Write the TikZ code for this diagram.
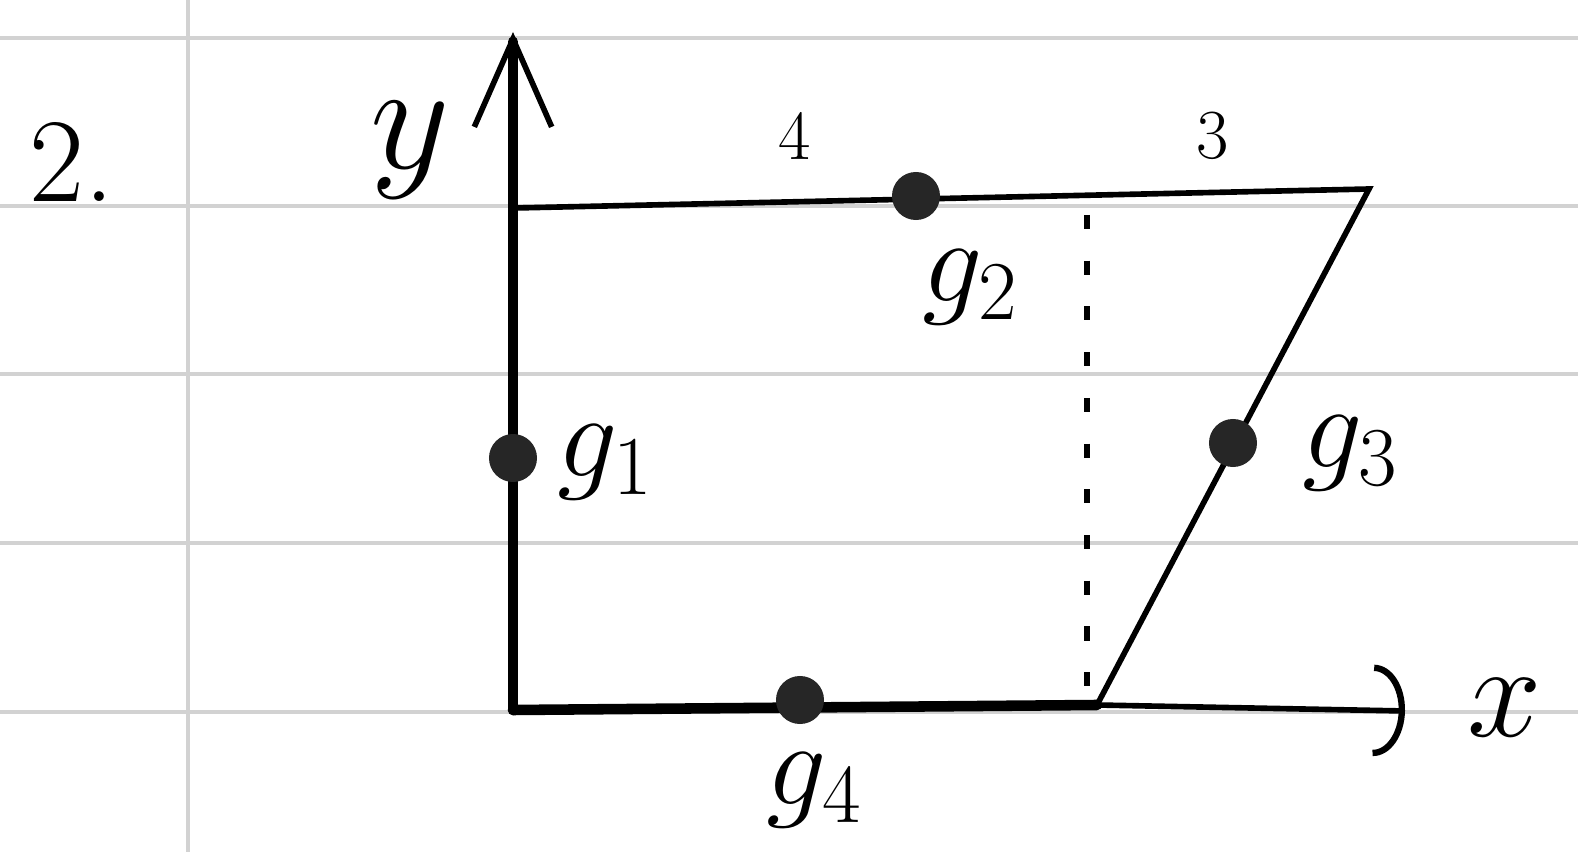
\RequirePackage{fix-cm}
\documentclass[tikz,border=0pt]{standalone}
\usetikzlibrary{arrows.meta}

\tikzset{
  paperline/.style={gray!35, line width=1pt},
  edge/.style={line width=1.6pt, line cap=round},
  boldedge/.style={line width=3pt, line cap=round},
  gdot/.style={circle, fill=black!85, inner sep=0pt, minimum size=0.48cm},
  glabel/.style={font=\fontsize{34}{38}\selectfont},
  axislabel/.style={font=\fontsize{44}{48}\selectfont},
  sidelabel/.style={font=\fontsize{20}{24}\selectfont}
}

\begin{document}
\begin{tikzpicture}[x=0.01cm, y=-0.01cm]

        \useasboundingbox (0,0) rectangle (1578,852);

        % Ruled paper
        \foreach \yy in {38,206,374,543,712}
            \draw[paperline] (0,\yy) -- (1578,\yy);
        \draw[paperline] (188,0) -- (188,852);

        % Question number
        \node[font=\fontsize{34}{38}\selectfont] (qnum) at (72,162) {2.};

        % Corners of the shape
        \coordinate (O) at (513,710);
        \coordinate (ytip) at (513,32);
        \coordinate (A) at (515,208);
        \coordinate (B) at (1369,189);
        \coordinate (C) at (1097,705);
        \coordinate (xend) at (1405,711);
        \coordinate (dtop) at (1087,215);
        \coordinate (dbot) at (1087,695);

        % Axes
        \draw[boldedge, -{Straight Barb[length=25pt, width=22pt, line width=1.6pt]}] (O) -- (ytip);
        \draw[edge, -{Arc Barb[length=9pt, width=26pt, line width=1.8pt]}] (C) -- (xend);
        \node[axislabel] (ylab) at (410,150) {$y$};
        \node[font=\fontsize{38}{42}\selectfont] (xlab) at (1505,708) {$x$};

        % Edges of the shape
        \draw[edge] (A) -- (B) -- (C);
        \draw[boldedge] (O) -- (C);
        \draw[line width=1.6pt, dash pattern=on 4pt off 9pt] (dtop) -- (dbot);

        % Lengths along the top
        \node[sidelabel] (four) at (795,136) {4};
        \node[sidelabel] (three) at (1213,136) {3};

        % Points g_i
        \node[gdot] (g1) at (513,458) {};
        \node[gdot] (g2) at (916,196) {};
        \node[gdot] (g3) at (1233,443) {};
        \node[gdot] (g4) at (800,700) {};

        \node[glabel] (g1lab) at (606,462) {$g_1$};
        \node[glabel] (g2lab) at (971,287) {$g_2$};
        \node[glabel] (g3lab) at (1351,453) {$g_3$};
        \node[glabel] (g4lab) at (815,790) {$g_4$};

    \end{tikzpicture}
\end{document}
